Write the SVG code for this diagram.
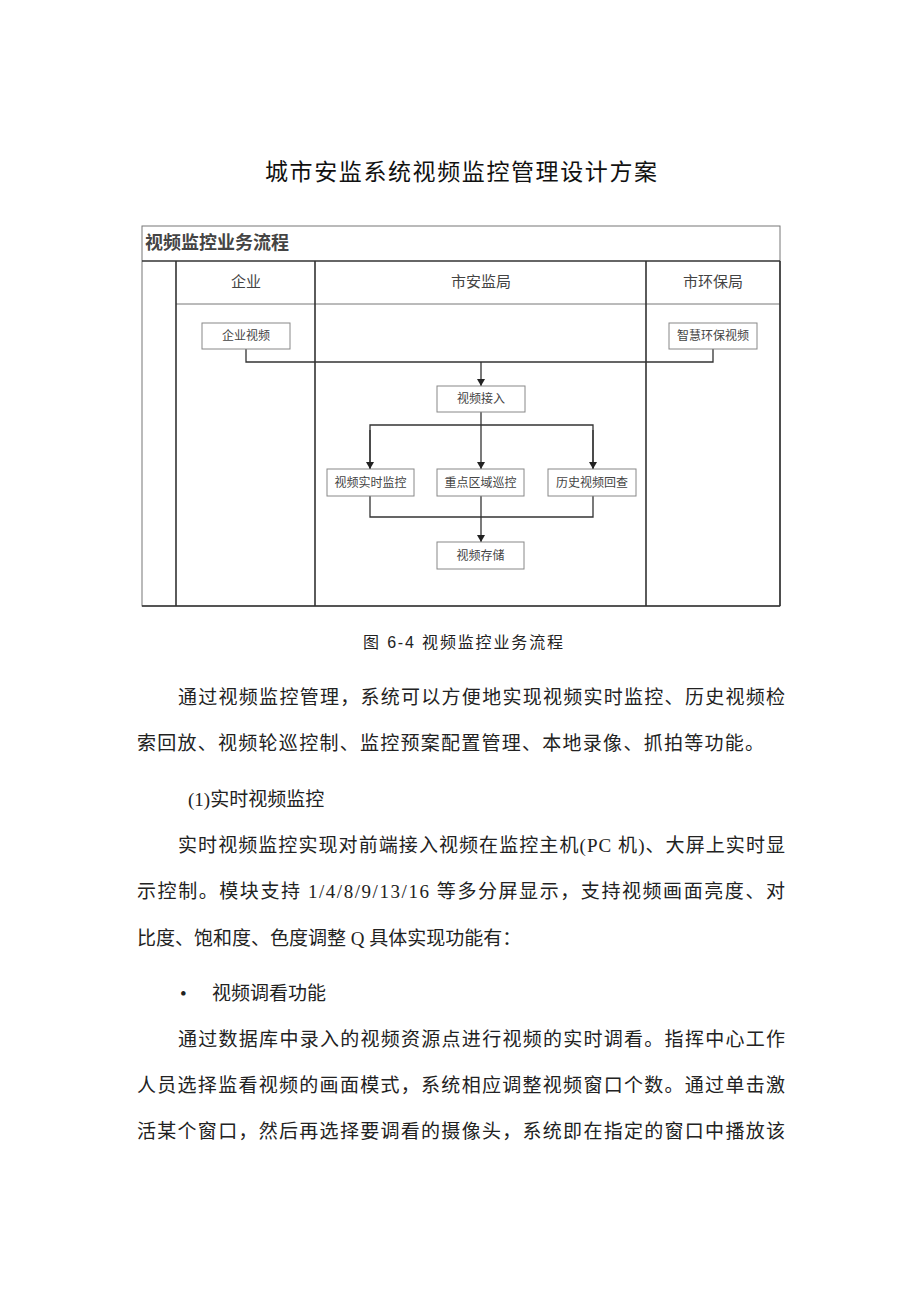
<svg xmlns="http://www.w3.org/2000/svg" width="920" height="1301" viewBox="0 0 920 1301">
<defs>
<marker id="arr" markerWidth="8" markerHeight="8" refX="7" refY="4" orient="auto" markerUnits="userSpaceOnUse">
<path d="M0,0 L7,4 L0,8 Z" fill="#222"/>
</marker>
<style>
.frame{fill:none;stroke:#777;stroke-width:1}
.lane{fill:none;stroke:#333;stroke-width:1.6}
.node rect{fill:#fff;stroke:#888;stroke-width:1}
.node text{font-family:"Liberation Serif","Noto Sans CJK SC",serif;font-size:12px;fill:#444;text-anchor:middle}
.hdr{font-family:"Liberation Serif","Noto Sans CJK SC",serif;font-size:15px;fill:#444;text-anchor:middle}
.conn{fill:none;stroke:#333;stroke-width:1.3}
.body{font-family:"Liberation Serif","Noto Sans CJK SC",serif;font-size:19px;fill:#222}
</style>
</defs>
<rect width="920" height="1301" fill="#fff"/>
<text x="461" y="180" font-family="'Noto Sans CJK SC',sans-serif" font-size="23" fill="#111" text-anchor="middle" textLength="392" lengthAdjust="spacing">城市安监系统视频监控管理设计方案</text>

<g id="pool">
<rect class="frame" x="142" y="226" width="638" height="380"/>
<line class="lane" x1="142" y1="261" x2="780" y2="261"/>
<line class="frame" x1="176" y1="304" x2="780" y2="304"/>
<line class="lane" x1="176" y1="261" x2="176" y2="606"/>
<line class="lane" x1="315" y1="261" x2="315" y2="606"/>
<line class="lane" x1="646" y1="261" x2="646" y2="606"/>
<line class="lane" x1="780" y1="261" x2="780" y2="606"/>
<line class="lane" x1="142" y1="606" x2="780" y2="606"/>
<text x="145" y="249" font-family="'Liberation Serif','Noto Sans CJK SC',serif" font-size="18" font-weight="bold" fill="#444">视频监控业务流程</text>
<text class="hdr" x="246" y="287">企业</text>
<text class="hdr" x="481" y="287">市安监局</text>
<text class="hdr" x="713" y="287">市环保局</text>
</g>

<g id="connectors">
<polyline class="conn" points="246,349 246,362 713,362 713,349"/>
<line class="conn" x1="481" y1="362" x2="481" y2="386" marker-end="url(#arr)"/>
<line class="conn" x1="481" y1="412" x2="481" y2="469" marker-end="url(#arr)"/>
<polyline class="conn" points="370,469 370,425 593,425 593,469"/>
<line class="conn" x1="370" y1="430" x2="370" y2="469" marker-end="url(#arr)"/>
<line class="conn" x1="593" y1="430" x2="593" y2="469" marker-end="url(#arr)"/>
<polyline class="conn" points="370,496 370,517 593,517 593,496"/>
<line class="conn" x1="481" y1="496" x2="481" y2="542" marker-end="url(#arr)"/>
</g>

<g id="n-qiye" class="node"><rect x="202" y="323" width="88" height="26"/><text x="246" y="340">企业视频</text></g>
<g id="n-huanbao" class="node"><rect x="669" y="323" width="88" height="26"/><text x="713" y="340">智慧环保视频</text></g>
<g id="n-jieru" class="node"><rect x="437" y="386" width="88" height="26"/><text x="481" y="403">视频接入</text></g>
<g id="n-shishi" class="node"><rect x="327" y="469" width="87" height="27"/><text x="370.5" y="487">视频实时监控</text></g>
<g id="n-xunkong" class="node"><rect x="437" y="469" width="87" height="27"/><text x="480.5" y="487">重点区域巡控</text></g>
<g id="n-huicha" class="node"><rect x="548" y="469" width="88" height="27"/><text x="592" y="487">历史视频回查</text></g>
<g id="n-cunchu" class="node"><rect x="437" y="542" width="87" height="27"/><text x="480.5" y="560">视频存储</text></g>

<text x="363" y="648" font-family="'Liberation Sans','Noto Sans CJK SC',sans-serif" font-size="16" fill="#222" textLength="200" lengthAdjust="spacing">图 6-4 视频监控业务流程</text>

<g id="body">
<text class="body" x="178" y="704" textLength="607" lengthAdjust="spacing">通过视频监控管理，系统可以方便地实现视频实时监控、历史视频检</text>
<text class="body" x="137" y="750" textLength="627" lengthAdjust="spacing">索回放、视频轮巡控制、监控预案配置管理、本地录像、抓拍等功能。</text>
<text class="body" x="188" y="806">(1)实时视频监控</text>
<text class="body" x="178" y="852" textLength="607" lengthAdjust="spacing">实时视频监控实现对前端接入视频在监控主机(PC 机)、大屏上实时显</text>
<text class="body" x="137" y="898" textLength="648" lengthAdjust="spacing">示控制。模块支持 1/4/8/9/13/16 等多分屏显示，支持视频画面亮度、对</text>
<text class="body" x="137" y="945">比度、饱和度、色度调整 Q 具体实现功能有：</text>
<text class="body" x="180" y="1000">•</text>
<text class="body" x="212" y="1000">视频调看功能</text>
<text class="body" x="178" y="1046" textLength="607" lengthAdjust="spacing">通过数据库中录入的视频资源点进行视频的实时调看。指挥中心工作</text>
<text class="body" x="137" y="1092" textLength="648" lengthAdjust="spacing">人员选择监看视频的画面模式，系统相应调整视频窗口个数。通过单击激</text>
<text class="body" x="137" y="1138" textLength="648" lengthAdjust="spacing">活某个窗口，然后再选择要调看的摄像头，系统即在指定的窗口中播放该</text>
</g>
</svg>
